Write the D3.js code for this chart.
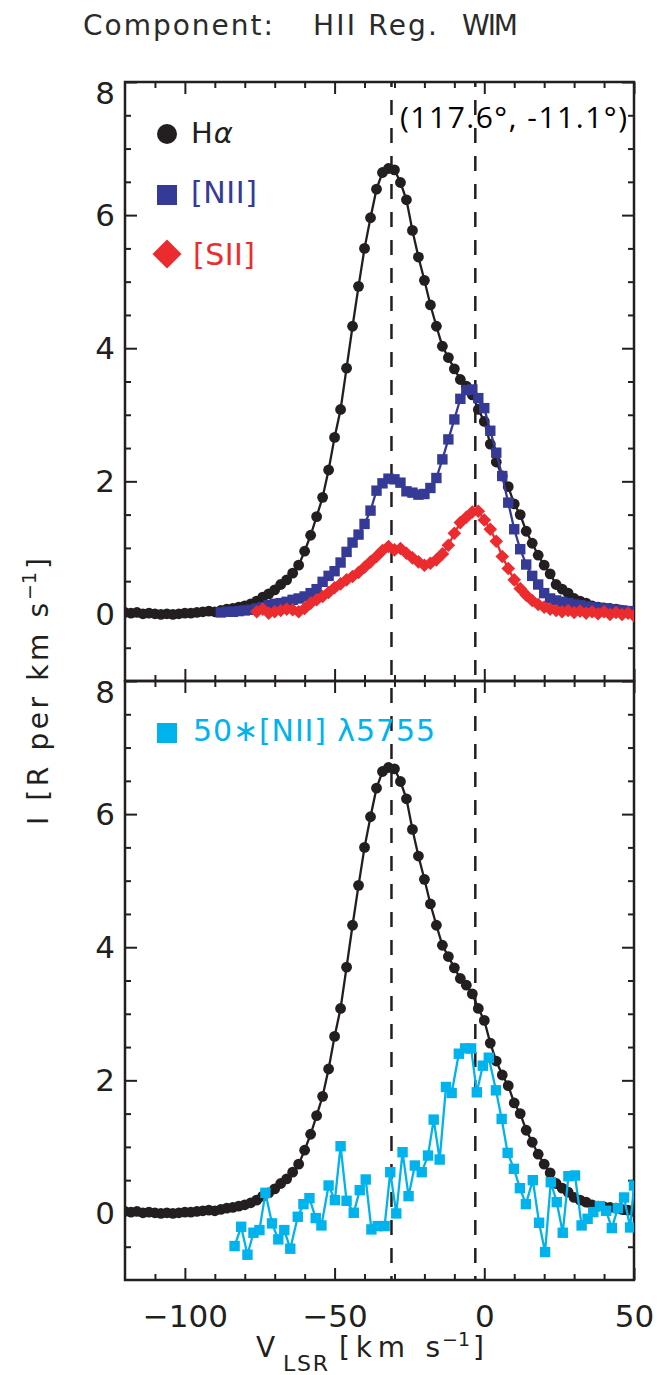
<!DOCTYPE html>
<html>
<head>
<meta charset="utf-8">
<script src="https://cdn.jsdelivr.net/npm/d3@7"></script>
<style>
  body { margin: 0; background: #fff; }
  svg text { font-family: "DejaVu Sans", "Liberation Sans", Arial, sans-serif; }
</style>
</head>
<body>
<div id="chart"></div>
<script>
// H-alpha, [NII], [SII] profiles (top) and 50*[NII] 5755 (bottom)

const haVel = [-120,-118,-116,-114,-112,-110,-108,-106,-104,-102,-100,-98,-96,-94,-92,-90,-88,-86,-84,-82,
  -80,-78,-76,-74,-72,-70,-68,-66,-64,-62,-60,-58,-56,-54,-52,-50,-48,-46,-44,-42,
  -40,-38,-36,-34,-32,-30,-28,-26,-24,-22,-20,-18,-16,-14,-12,-10,-8,-6,-4,-2,
  0,2,4,6,8,10,12,14,16,18,20,22,24,26,28,30,32,34,36,38,40,42,44,46,48,50];
const haVal = [0.03,0.02,0.03,0.01,0.02,0.01,0.00,0.01,0.00,0.01,0.02,0.02,0.03,0.04,0.05,0.04,0.06,0.08,0.09,0.11,
  0.13,0.16,0.20,0.26,0.31,0.37,0.45,0.52,0.62,0.74,0.95,1.19,1.47,1.76,2.17,2.66,3.08,3.70,4.33,4.93,
  5.50,5.96,6.39,6.64,6.70,6.68,6.49,6.23,5.77,5.37,5.02,4.65,4.33,4.03,3.86,3.69,3.53,3.43,3.30,3.08,
  2.90,2.56,2.29,2.08,1.92,1.66,1.50,1.25,1.07,0.89,0.74,0.61,0.45,0.38,0.32,0.24,0.20,0.17,0.13,0.11,
  0.10,0.09,0.08,0.06,0.05,0.03];

const n2Vel = [-88,-86,-84,-82,-80,-78,-76,-74,-72,-70,-68,-66,-64,-62,-60,-58,-56,-54,-52,-50,
  -48,-46,-44,-42,-40,-38,-36,-34,-32,-30,-28,-26,-24,-22,-20,-18,-16,-14,-12,-10,
  -8,-6,-4,-2,0,2,4,6,8,10,12,14,16,18,20,22,24,26,28,30,32,34,36,38,40,42,44,46,48,50];
const n2Val = [0.03,0.04,0.04,0.05,0.06,0.07,0.09,0.11,0.14,0.16,0.17,0.19,0.22,0.24,0.27,0.32,0.38,0.49,0.58,0.65,
  0.78,0.94,1.08,1.20,1.36,1.56,1.86,1.97,2.04,2.03,1.98,1.85,1.83,1.80,1.81,1.90,2.05,2.33,2.63,2.93,
  3.24,3.37,3.38,3.25,3.10,2.76,2.43,2.08,1.68,1.28,0.98,0.75,0.58,0.45,0.32,0.24,0.21,0.19,0.17,0.15,
  0.14,0.12,0.11,0.10,0.09,0.08,0.07,0.06,0.05,0.04];

const s2Vel = [-76,-74,-72,-70,-68,-66,-64,-62,-60,-58,-56,-54,-52,-50,-48,-46,-44,-42,-40,-38,
  -36,-34,-32,-30,-28,-26,-24,-22,-20,-18,-16,-14,-12,-10,-8,-6,-4,-2,0,2,
  4,6,8,10,12,14,16,18,20,22,24,26,28,30,32,34,36,38,40,42,44,46,48,50];
const s2Val = [0.04,0.08,0.02,0.04,0.06,0.08,0.07,0.04,0.09,0.17,0.22,0.27,0.33,0.40,0.46,0.52,0.57,0.63,0.71,0.79,
  0.87,0.96,1.02,0.97,0.99,0.92,0.85,0.79,0.74,0.77,0.82,0.91,1.04,1.22,1.38,1.46,1.54,1.55,1.42,1.28,
  1.10,0.87,0.69,0.52,0.39,0.29,0.21,0.15,0.11,0.08,0.06,0.04,0.06,0.03,0.05,0.02,0.04,0.01,0.04,0.00,
  0.03,0.00,0.02,-0.02];

const auVel = [-83.4,-81.2,-79.1,-77.1,-75.1,-73.1,-70.9,-68.8,-66.8,-64.8,-62.3,-60.4,-58.4,-56.3,-54.4,-52.0,
  -49.9,-48.0,-46.0,-43.6,-41.6,-39.6,-37.7,-35.6,-33.3,-31.4,-29.4,-27.3,-25.3,-23.2,-20.9,-18.8,
  -16.9,-14.9,-12.8,-10.9,-8.5,-6.4,-4.4,-2.5,-0.5,1.5,3.9,5.8,7.8,9.9,11.9,13.9,
  16.2,18.3,20.3,22.2,24.2,26.2,28.1,30.3,32.5,34.5,36.4,38.6,40.7,42.6,44.6,46.7,48.7,50.0];
const auVal = [-0.49,-0.20,-0.62,-0.29,-0.25,0.31,-0.15,-0.39,-0.25,-0.53,-0.05,0.14,0.23,-0.07,-0.18,0.42,
  0.20,1.01,0.19,0.01,0.35,0.51,-0.24,-0.19,-0.19,0.62,0.00,0.92,0.26,0.72,0.62,0.87,
  1.41,0.81,1.90,1.81,2.40,2.48,2.48,1.82,2.22,2.34,1.85,1.42,0.91,0.67,0.38,0.14,
  0.50,-0.14,-0.58,0.47,0.17,-0.29,0.56,0.57,-0.18,-0.08,0.02,0.11,0.04,-0.22,0.08,0.24,-0.21,0.42];

const markVel = [-31, -3];
const xMajor = [-100, -50, 0, 50];
const xMinor = [-110, -90, -80, -70, -60, -40, -30, -20, -10, 10, 20, 30, 40];
const yMajor = [0, 2, 4, 6, 8];
const yMinor = [-0.5, 0.5, 1, 1.5, 2.5, 3, 3.5, 4.5, 5, 5.5, 6.5, 7, 7.5];

const ink = "#231f20";
const cBlue = "#353a97";
const cRed = "#ec2b2f";
const cCyan = "#00b3ec";
const font = '"DejaVu Sans", "Liberation Sans", Arial, sans-serif';

const W = 664, H = 1375;
const L = 125, R = 634;

const svg = d3.select("#chart").append("svg")
    .attr("width", W)
    .attr("height", H)
    .style("background", "#fff");

const x = d3.scaleLinear().domain([-120, 50]).range([L, R]);

const panels = [
    { id: "top", t: 82, b: 681 },
    { id: "bot", t: 681, b: 1280 }
];
panels.forEach(p => { p.y = d3.scaleLinear().domain([-1, 8]).range([p.b, p.t]); });

const zip = (vel, val) => vel.map((v, i) => ({ v: v, i: val[i] }));

function styleAxis(g) {
    g.select(".domain").remove();
    g.selectAll("line").attr("stroke", ink).attr("stroke-width", 2);
    g.selectAll("text")
        .attr("fill", ink)
        .attr("font-size", 31)
        .attr("font-family", font);
}

// clip regions
const defs = svg.append("defs");
panels.forEach(p => {
    defs.append("clipPath").attr("id", "clip-" + p.id)
        .append("rect")
        .attr("x", L).attr("y", p.t)
        .attr("width", R - L).attr("height", p.b - p.t);
});

// dashed velocity markers, behind the data
svg.append("g").selectAll("line")
    .data(markVel)
    .join("line")
    .attr("x1", d => x(d)).attr("x2", d => x(d))
    .attr("y1", panels[0].t).attr("y2", panels[1].b)
    .attr("stroke", ink)
    .attr("stroke-width", 2.5)
    .attr("stroke-dasharray", "15,13")
    .attr("stroke-dashoffset", -18);

// axes + frames
panels.forEach((p, k) => {
    const ax = svg.append("g").attr("class", "axes-" + p.id);

    const left = ax.append("g").attr("transform", `translate(${L},0)`)
        .call(d3.axisLeft(p.y).tickValues(yMajor).tickSize(-12).tickPadding(10).tickFormat(d3.format("d")));
    styleAxis(left);
    left.selectAll(".tick text").filter(d => d === 8).attr("y", 12);
    styleAxis(ax.append("g").attr("transform", `translate(${L},0)`)
        .call(d3.axisLeft(p.y).tickValues(yMinor).tickSize(-6).tickFormat("")));

    styleAxis(ax.append("g").attr("transform", `translate(${R},0)`)
        .call(d3.axisRight(p.y).tickValues(yMajor).tickSize(-12).tickFormat("")));
    styleAxis(ax.append("g").attr("transform", `translate(${R},0)`)
        .call(d3.axisRight(p.y).tickValues(yMinor).tickSize(-6).tickFormat("")));

    styleAxis(ax.append("g").attr("transform", `translate(0,${p.t})`)
        .call(d3.axisTop(x).tickValues(xMajor).tickSize(-12).tickFormat("")));
    styleAxis(ax.append("g").attr("transform", `translate(0,${p.t})`)
        .call(d3.axisTop(x).tickValues(xMinor).tickSize(-6).tickFormat("")));

    styleAxis(ax.append("g").attr("transform", `translate(0,${p.b})`)
        .call(d3.axisBottom(x).tickValues(xMajor).tickSize(-12).tickPadding(25)
            .tickFormat(k === 1 ? d3.format("d") : "")));
    styleAxis(ax.append("g").attr("transform", `translate(0,${p.b})`)
        .call(d3.axisBottom(x).tickValues(xMinor).tickSize(-6).tickFormat("")));

    ax.append("rect")
        .attr("x", L).attr("y", p.t)
        .attr("width", R - L).attr("height", p.b - p.t)
        .attr("fill", "none")
        .attr("stroke", ink)
        .attr("stroke-width", 2.5);
});

// series
function drawSeries(p, data, color, shape) {
    const g = svg.append("g").attr("clip-path", `url(#clip-${p.id})`);
    const line = d3.line().x(d => x(d.v)).y(d => p.y(d.i));
    g.append("path")
        .datum(data)
        .attr("d", line)
        .attr("fill", "none")
        .attr("stroke", color)
        .attr("stroke-width", 2.3);

    if (shape === "circle") {
        g.selectAll("circle").data(data).join("circle")
            .attr("cx", d => x(d.v)).attr("cy", d => p.y(d.i))
            .attr("r", 5.4).attr("fill", color);
    } else if (shape === "square") {
        g.selectAll("rect").data(data).join("rect")
            .attr("x", d => x(d.v) - 5.2).attr("y", d => p.y(d.i) - 5.2)
            .attr("width", 10.4).attr("height", 10.4).attr("fill", color);
    } else {
        g.selectAll("path.mk").data(data).join("path")
            .attr("class", "mk")
            .attr("d", d => {
                const cx = x(d.v), cy = p.y(d.i), h = 6.8;
                return `M${cx},${cy - h}L${cx + h},${cy}L${cx},${cy + h}L${cx - h},${cy}Z`;
            })
            .attr("fill", color);
    }
}

drawSeries(panels[0], zip(haVel, haVal), ink, "circle");
drawSeries(panels[0], zip(n2Vel, n2Val), cBlue, "square");
drawSeries(panels[0], zip(s2Vel, s2Val), cRed, "diamond");
drawSeries(panels[1], zip(haVel, haVal), ink, "circle");
drawSeries(panels[1], zip(auVel, auVal), cCyan, "square");

// legends
const leg = svg.append("g");
leg.append("circle").attr("cx", 167).attr("cy", 134).attr("r", 10).attr("fill", ink);
const ha = leg.append("text").attr("x", 191).attr("y", 143).attr("font-size", 29)
    .attr("fill", ink).attr("letter-spacing", 1);
ha.append("tspan").text("H");
ha.append("tspan").attr("font-style", "italic").text("α");

leg.append("rect").attr("x", 157).attr("y", 185).attr("width", 20).attr("height", 20).attr("fill", cBlue);
leg.append("text").attr("x", 191).attr("y", 203).attr("font-size", 30)
    .attr("fill", cBlue).attr("textLength", 66).attr("lengthAdjust", "spacing").text("[NII]");

leg.append("path").attr("d", "M167,239.5L181.5,254L167,268.5L152.5,254Z").attr("fill", cRed);
leg.append("text").attr("x", 193).attr("y", 265).attr("font-size", 30)
    .attr("fill", cRed).attr("textLength", 62).attr("lengthAdjust", "spacing").text("[SII]");

leg.append("rect").attr("x", 157).attr("y", 723).attr("width", 20).attr("height", 20).attr("fill", cCyan);
leg.append("text").attr("x", 193).attr("y", 741).attr("font-size", 30)
    .attr("fill", cCyan).attr("textLength", 242).attr("lengthAdjust", "spacing").text("50∗[NII] λ5755");

// position label
svg.append("text").attr("x", 400).attr("y", 128)
    .attr("font-size", 30).attr("fill", "#000")
    .style("font-family", "'Open Sans', Lato, sans-serif")
    .attr("textLength", 227).attr("lengthAdjust", "spacing")
    .text("(117.6°, -11.1°)");

// title
const title = [["Component:", 83, 190], ["HII Reg.", 313, 124], ["WIM", 462, 56]];
svg.append("g").selectAll("text").data(title).join("text")
    .attr("x", d => d[1]).attr("y", 35)
    .attr("font-size", 28).attr("fill", "#2b2b2b")
    .attr("textLength", d => d[2]).attr("lengthAdjust", "spacing")
    .text(d => d[0]);

// x label
const xl = svg.append("g").attr("fill", ink);
xl.append("text").attr("x", 256).attr("y", 1357).attr("font-size", 28).text("V");
xl.append("text").attr("x", 283).attr("y", 1371).attr("font-size", 22)
    .attr("textLength", 45).attr("lengthAdjust", "spacing").text("LSR");
xl.append("text").attr("x", 339).attr("y", 1357).attr("font-size", 28)
    .attr("textLength", 101).attr("lengthAdjust", "spacing").text("[km s");
xl.append("text").attr("x", 442).attr("y", 1346).attr("font-size", 19).text("−1");
xl.append("text").attr("x", 473).attr("y", 1357).attr("font-size", 28).text("]");

// y label, reads bottom to top
const yl = svg.append("g").attr("fill", ink).attr("font-size", 28)
    .attr("transform", "translate(48,826) rotate(-90)");
yl.append("text").attr("x", 1).attr("y", 0)
    .attr("textLength", 222).attr("lengthAdjust", "spacing").text("I [R per km s");
yl.append("text").attr("x", 226).attr("y", -12).attr("font-size", 19).text("−1");
yl.append("text").attr("x", 257).attr("y", 0).text("]");
</script>
</body>
</html>
